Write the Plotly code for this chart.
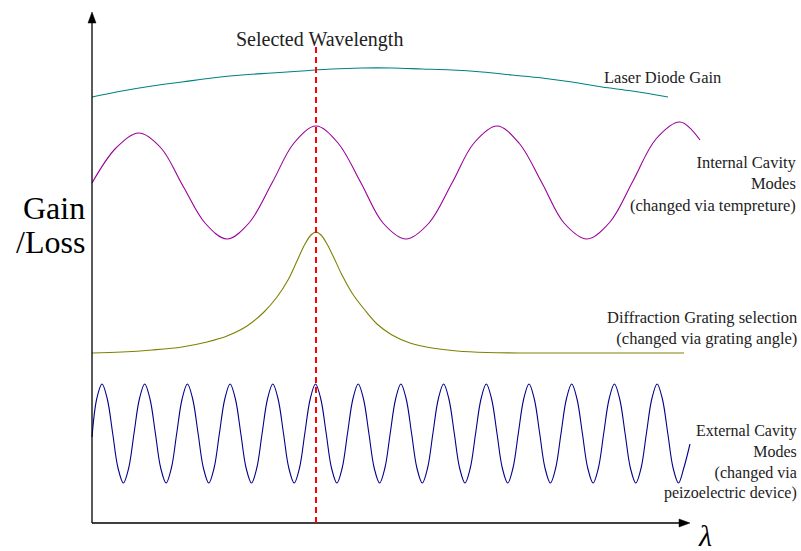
import plotly.graph_objects as go

# Horizontal position (lambda) and level (gain/loss) of each curve, in drawing units.

# Laser diode gain envelope
gain_x = [0, 30, 60, 90, 120, 150, 180, 210, 240, 270, 300, 330, 360, 390,
          420, 450, 480, 510, 540, 576]
gain_y = [426, 432, 437, 441, 445, 448, 450, 452, 454, 455, 455, 454, 453, 451,
          448, 445, 441, 436, 432, 426]

# Internal cavity modes
int_x = [0, 24, 47, 69, 91, 113, 135, 157, 180, 202, 224, 246, 269, 291, 314,
         337, 360, 382, 405, 427, 450, 472, 495, 518, 541, 564, 588, 608]
int_y = [340, 375, 390, 375, 337, 300, 284, 300, 340, 380, 397, 380, 340, 300, 284,
         300, 340, 380, 397, 380, 340, 300, 284, 301, 342, 384, 401, 383]

# Diffraction grating selection
grat_x = [0, 30, 60, 90, 115, 135, 155, 172, 185, 196, 205, 213, 219, 224, 229,
          235, 242, 250, 260, 272, 285, 300, 318, 340, 365, 395, 430, 480, 592]
grat_y = [170, 171, 173, 176, 181, 187, 197, 211, 226, 243, 262, 279, 288, 291, 288,
          279, 265, 248, 230, 214, 199, 188, 180, 175, 172, 170.5, 170, 170, 170]

# External cavity modes
ext_x = [0, 4.7,
         10, 15.3, 20.7, 26.0, 31.4, 36.7, 42.0, 47.4,
         52.7, 58.0, 63.4, 68.7, 74.1, 79.4, 84.7, 90.1,
         95.4, 100.7, 106.1, 111.4, 116.8, 122.1, 127.4, 132.8,
         138.1, 143.4, 148.8, 154.1, 159.5, 164.8, 170.1, 175.5,
         180.8, 186.1, 191.5, 196.8, 202.2, 207.5, 212.8, 218.2,
         223.5, 228.8, 234.2, 239.5, 244.9, 250.2, 255.5, 260.9,
         266.2, 271.5, 276.9, 282.2, 287.6, 292.9, 298.2, 303.6,
         308.9, 314.2, 319.6, 324.9, 330.3, 335.6, 340.9, 346.3,
         351.6, 356.9, 362.3, 367.6, 373.0, 378.3, 383.6, 389.0,
         394.3, 399.6, 405.0, 410.3, 415.7, 421.0, 426.3, 431.7,
         437.0, 442.3, 447.7, 453.0, 458.4, 463.7, 469.0, 474.4,
         479.7, 485.0, 490.4, 495.7, 501.1, 506.4, 511.7, 517.1,
         522.4, 527.7, 533.1, 538.4, 543.8, 549.1, 554.4, 559.8,
         565.1, 570.4, 575.8, 581.1, 586.5, 591.8, 598]
ext_y = [86, 124] + [139, 124, 89.5, 55, 40, 55, 89.5, 124] * 13 + [139, 124, 89.5, 55, 40, 55, 79]

selected_x = 224
axis_len_x = 598
axis_len_y = 511

labels = {
    "selected": "Selected Wavelength",
    "gain": "Laser Diode Gain",
    "internal": "Internal Cavity<br>Modes<br>(changed via tempreture)",
    "grating": "Diffraction Grating selection<br>(changed via grating angle)",
    "external": "External Cavity<br>Modes<br>(changed via<br>peizoelectric device)",
}

SERIF = "Times New Roman, Liberation Serif, DejaVu Serif, serif"

fig = go.Figure()
curve_specs = [
    (gain_x, gain_y, "#008080"),
    (int_x, int_y, "#990099"),
    (grat_x, grat_y, "#808000"),
    (ext_x, ext_y, "#000088"),
]
for xs, ys, col in curve_specs:
    fig.add_trace(go.Scatter(x=xs, y=ys, mode="lines",
                             line=dict(color=col, width=1.1, shape="spline"),
                             hoverinfo="skip", showlegend=False))

shapes = [
    # axes
    dict(type="line", x0=0, y0=0, x1=0, y1=axis_len_y - 8, line=dict(color="black", width=1.3)),
    dict(type="line", x0=0, y0=0, x1=axis_len_x - 8, y1=0, line=dict(color="black", width=1.3)),
    dict(type="path", path=f"M 0,{axis_len_y} L -4,{axis_len_y - 11} L 4,{axis_len_y - 11} Z",
         fillcolor="black", line=dict(color="black", width=0.5)),
    dict(type="path", path=f"M {axis_len_x},0 L {axis_len_x - 11},4 L {axis_len_x - 11},-4 Z",
         fillcolor="black", line=dict(color="black", width=0.5)),
    # selected wavelength marker
    dict(type="line", x0=selected_x, y0=0, x1=selected_x, y1=476,
         line=dict(color="#ff0000", width=2, dash="6px,4px")),
]

txt_col = "#222222"
annotations = [
    dict(x=227, y=484, text=labels["selected"], xanchor="center", yanchor="middle",
         font=dict(size=20, color=txt_col)),
    dict(x=631, y=446, text=labels["gain"], xanchor="right", yanchor="middle",
         font=dict(size=16.5, color=txt_col)),
    dict(x=707, y=339, text=labels["internal"], xanchor="right", yanchor="middle", align="right",
         font=dict(size=16.5, color=txt_col)),
    dict(x=707, y=195, text=labels["grating"], xanchor="right", yanchor="middle", align="right",
         font=dict(size=16.5, color=txt_col)),
    dict(x=707, y=61, text=labels["external"], xanchor="right", yanchor="middle", align="right",
         font=dict(size=16, color=txt_col)),
    dict(x=-5, y=315, text="Gain", xanchor="right", yanchor="middle",
         font=dict(size=32, color="black")),
    dict(x=-5, y=281, text="/Loss", xanchor="right", yanchor="middle",
         font=dict(size=32, color="black")),
    dict(x=613, y=-12, text="<i>λ</i>", xanchor="center", yanchor="middle",
         font=dict(size=30, color="black")),
]
for a in annotations:
    a.update(showarrow=False, xref="x", yref="y")

fig.update_layout(
    width=801, height=551,
    margin=dict(l=0, r=0, t=0, b=0),
    font=dict(family=SERIF),
    paper_bgcolor="white", plot_bgcolor="white",
    xaxis=dict(range=[-92, 709], visible=False, fixedrange=True),
    yaxis=dict(range=[-28, 523], visible=False, fixedrange=True),
    shapes=shapes,
    annotations=annotations,
)

fig.write_html("out.html")
